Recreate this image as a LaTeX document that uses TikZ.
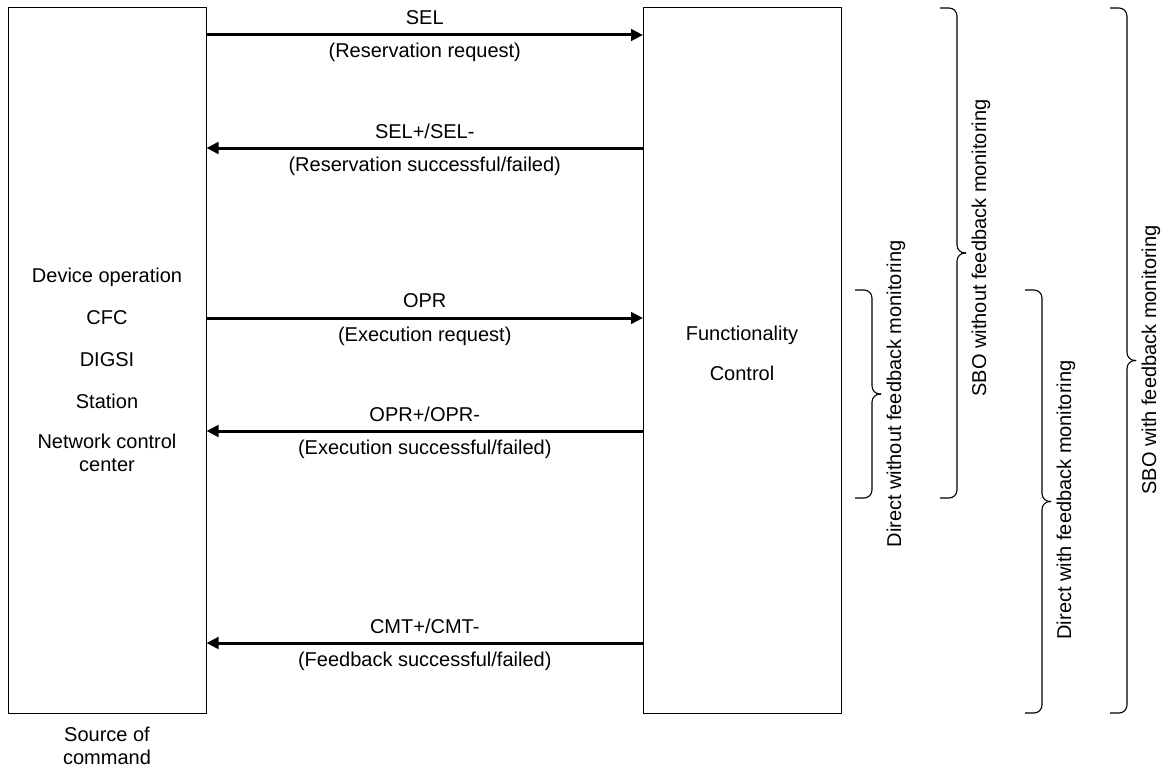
\documentclass[tikz,border=0pt]{standalone}
\usepackage{fontspec}
\setmainfont{Liberation Sans}
\usetikzlibrary{arrows.meta,calc}
\begin{document}
\begin{tikzpicture}[x=1pt,y=-1pt,
  txt/.style={font=\fontsize{20}{24}\selectfont, inner sep=0pt, align=center},
  box/.style={draw, line width=1pt, minimum width=198pt, minimum height=705pt, inner sep=0pt},
  arr/.style={line width=3pt, -{Triangle[length=12pt,width=11.5pt]}},
  brcs/.style={line width=1.1pt, rounded corners=8pt},
  lab/.style={txt, rotate=90}]
\useasboundingbox (0,0) rectangle (1165,768);
\node[box] (src) at (107,360.5) {};
\node[box] (fc) at (742.5,360.5) {};

\node[txt] (t1) at (107,277) {Device operation};
\node[txt] (t2) at (107,318) {CFC};
\node[txt] (t3) at (107,360) {DIGSI};
\node[txt] (t4) at (107,401) {Station};
\node[txt] (t5) at (107,453) {Network control\\[-1pt]center};
\node[txt] (t6) at (107,746) {Source of\\[-1pt]command};
\node[txt] (f1) at (742,353) {Functionality\\[16pt]Control};

\coordinate (y1) at (0,35);
\coordinate (y2) at (0,148);
\coordinate (y3) at (0,318);
\coordinate (y4) at (0,431);
\coordinate (y5) at (0,643);

\draw[arr] (src.east |- y1) -- (fc.west |- y1)
  node[txt, midway, yshift=17pt] (a1) {SEL}
  node[txt, midway, yshift=-17pt] (b1) {(Reservation request)};
\draw[arr] (fc.west |- y2) -- (src.east |- y2)
  node[txt, midway, yshift=17pt] (a2) {SEL+/SEL-}
  node[txt, midway, yshift=-18pt] (b2) {(Reservation successful/failed)};
\draw[arr] (src.east |- y3) -- (fc.west |- y3)
  node[txt, midway, yshift=17pt] (a3) {OPR}
  node[txt, midway, yshift=-18pt] (b3) {(Execution request)};
\draw[arr] (fc.west |- y4) -- (src.east |- y4)
  node[txt, midway, yshift=17pt] (a4) {OPR+/OPR-}
  node[txt, midway, yshift=-18pt] (b4) {(Execution successful/failed)};
\draw[arr] (fc.west |- y5) -- (src.east |- y5)
  node[txt, midway, yshift=17pt] (a5) {CMT+/CMT-}
  node[txt, midway, yshift=-18pt] (b5) {(Feedback successful/failed)};

\newcommand\curlybr[2]{%
  \draw[brcs] (#1) -- ++(17,0) -- ($(#1)!0.5!(#2)+(17,0)$) -- ($(#1)!0.5!(#2)+(26,0)$);
  \draw[brcs] ($(#1)!0.5!(#2)+(26,0)$) -- ($(#1)!0.5!(#2)+(17,0)$) -- ($(#2)+(17,0)$) -- (#2);}
\coordinate (c1a) at (855,290); \coordinate (c1b) at (855,498);
\coordinate (c2a) at (940,8);   \coordinate (c2b) at (940,498);
\coordinate (c3a) at (1025,290); \coordinate (c3b) at (1025,713);
\coordinate (c4a) at (1110,8);  \coordinate (c4b) at (1110,713);
\curlybr{c1a}{c1b}
\curlybr{c2a}{c2b}
\curlybr{c3a}{c3b}
\curlybr{c4a}{c4b}

\node[lab] (l1) at (896,394) {Direct without feedback monitoring};
\node[lab] (l2) at (981,248) {SBO without feedback monitoring};
\node[lab] (l3) at (1066,500) {Direct with feedback monitoring};
\node[lab] (l4) at (1151,360) {SBO with feedback monitoring};
\end{tikzpicture}
\end{document}
